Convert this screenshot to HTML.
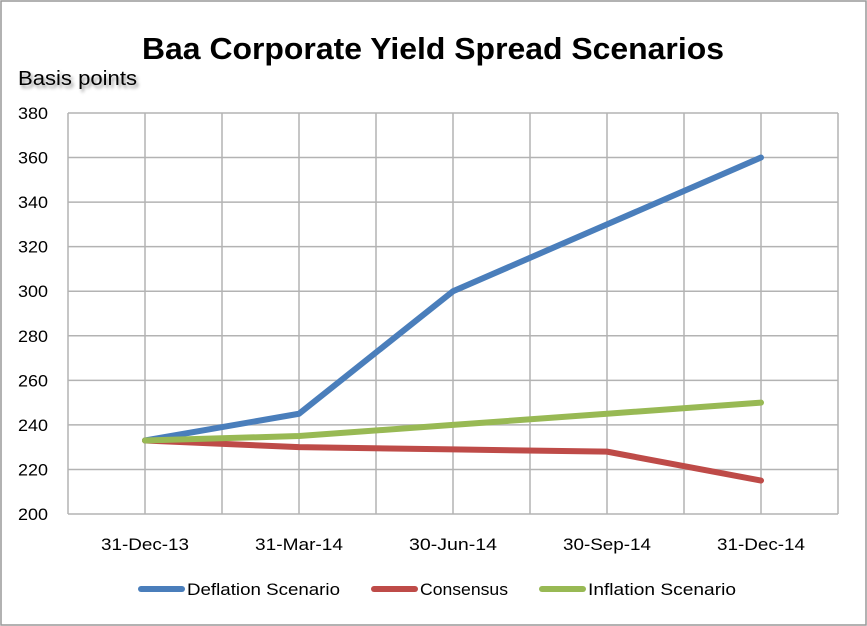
<!DOCTYPE html>
<html><head><meta charset="utf-8"><style>
html,body{margin:0;padding:0;background:#fff;}
svg{display:block;font-family:"Liberation Sans",sans-serif;}
</style></head><body>
<svg id="chart" width="867" height="626">
<rect x="1" y="1" width="865" height="624" fill="#fff" stroke="#999" stroke-width="1.5"/>
<text x="433" y="59" text-anchor="middle" font-size="31" font-weight="bold" fill="#000" textLength="582" lengthAdjust="spacingAndGlyphs">Baa Corporate Yield Spread Scenarios</text>
<text x="18" y="85" font-size="20" fill="#000" textLength="119" lengthAdjust="spacingAndGlyphs" style="text-shadow:2px 3px 3px #999">Basis points</text>
<g id="grid"></g><g id="axes"></g><g id="series"></g><g id="legend"></g>
</svg>
<script>
const categories=["31-Dec-13","31-Mar-14","30-Jun-14","30-Sep-14","31-Dec-14"];
const deflation=[233,245,300,330,360];
const consensus=[233,230,229,228,215];
const inflation=[233,235,240,245,250];
const yTicks=[200,220,240,260,280,300,320,340,360,380];
const seriesNames=["Deflation Scenario","Consensus","Inflation Scenario"];
const colors=["#4a7ebb","#be4b48","#98b954"];
const NS="http://www.w3.org/2000/svg";
const L=68,R=838,T=113,B=514,yMin=200,yMax=380;
const step=(R-L)/categories.length;
const xS=i=>L+step*(i+0.5);
const yS=v=>B-(v-yMin)/(yMax-yMin)*(B-T);
function mk(tag,attrs,parent){const e=document.createElementNS(NS,tag);for(const k in attrs)e.setAttribute(k,attrs[k]);parent.appendChild(e);return e;}
const grid=document.getElementById('grid'),axes=document.getElementById('axes'),ser=document.getElementById('series'),leg=document.getElementById('legend');
yTicks.forEach(v=>{
 const l=mk('line',{x1:L,x2:R,y1:yS(v),y2:yS(v),stroke:'#b3b3b3','stroke-width':1.5},grid);
 
 
 const t=mk('text',{x:L-20,y:yS(v)+6,'text-anchor':'end','font-size':17,textLength:30,lengthAdjust:'spacingAndGlyphs'},axes);
 t.textContent=v;
 
 
});
for(let i=0;i<=categories.length*2;i++){
 const x=L+step/2*i;
 const l=mk('line',{x1:x,x2:x,y1:T,y2:B,stroke:'#b3b3b3','stroke-width':1.5},grid);
 
 
}
categories.forEach((c,i)=>{
 const t=mk('text',{x:xS(i),y:550,'text-anchor':'middle','font-size':17,textLength:88,lengthAdjust:'spacingAndGlyphs'},axes);
 t.textContent=c;
 
 
});
[deflation,consensus,inflation].forEach((d,s)=>{
 const p=mk('polyline',{points:d.map((v,i)=>xS(i)+','+yS(v)).join(' '),fill:'none',stroke:colors[s],'stroke-width':6,'stroke-linejoin':'round','stroke-linecap':'round'},ser);
 
 
});
const lx=[141,374,542];
const lw=[153,88,148];
seriesNames.forEach((n,s)=>{
 const l=mk('line',{x1:lx[s],x2:lx[s]+41,y1:589,y2:589,stroke:colors[s],'stroke-width':6,'stroke-linecap':'round'},leg);
 
 
 const t=mk('text',{x:lx[s]+46,y:595,'font-size':17,textLength:lw[s],lengthAdjust:'spacingAndGlyphs'},leg);
 t.textContent=n;
 
 
});
</script>
</body></html>
